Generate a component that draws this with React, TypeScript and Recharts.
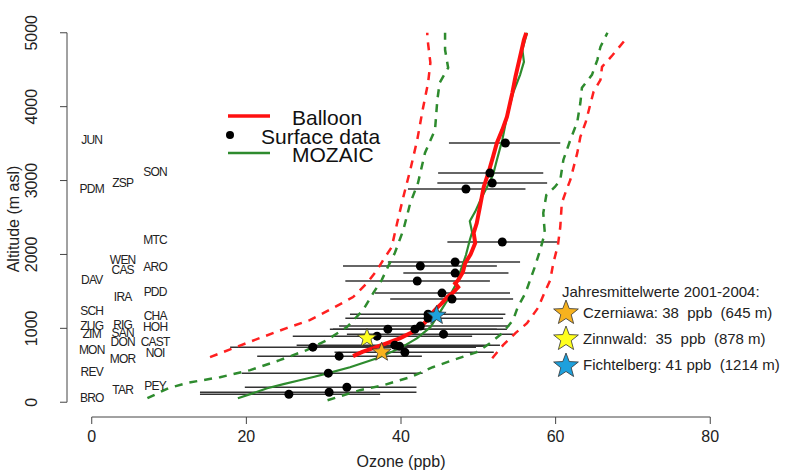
import { ComposedChart, Line, Scatter, XAxis, YAxis, ErrorBar, ReferenceLine } from 'recharts';

// [ozone ppb, altitude m]
const balloon: [number, number][] = [
  [33.8, 623], [35.0, 680], [36.4, 732], [38.2, 800], [39.9, 867], [41.3, 940], [42.5, 1016],
  [43.2, 1090], [43.8, 1179], [44.5, 1260], [45.2, 1330], [46.0, 1423], [46.8, 1490], [47.4, 1558],
  [47.0, 1610], [47.4, 1653], [48.0, 1760], [48.3, 1883], [49.0, 2000], [49.6, 2154], [49.4, 2290],
  [49.8, 2425], [50.2, 2642], [50.7, 2913], [51.3, 3103], [51.9, 3320], [52.4, 3509], [53.1, 3686],
  [53.7, 3862], [54.0, 4000], [54.4, 4187], [54.8, 4404], [55.4, 4675], [55.9, 4905], [56.2, 5000],
];
const mozaic: [number, number][] = [
  [18.9, 54], [20.8, 120], [22.7, 190], [24.8, 245], [26.9, 298], [28.8, 345], [30.6, 393],
  [33.4, 474], [36.9, 596], [39.9, 732], [42.1, 867], [43.8, 1016], [44.8, 1179], [46.0, 1382],
  [47.2, 1612], [47.6, 1748], [48.4, 1992], [48.9, 2195], [49.2, 2300], [48.9, 2450], [49.6, 2580],
  [50.4, 2764], [51.4, 2967], [51.9, 3076], [52.4, 3279], [53.1, 3550], [53.7, 3862], [54.5, 4187],
  [55.4, 4431], [55.9, 4607], [55.7, 4770], [56.3, 5000],
];
const balloonLow: [number, number][] = [
  [15.3, 610], [18.3, 732], [21.7, 867], [25.2, 1003], [28.2, 1111], [31.2, 1274], [33.8, 1423],
  [35.6, 1612], [36.9, 1789], [37.7, 1924], [38.8, 2100], [39.5, 2425], [40.3, 2778], [41.2, 3144],
  [42.1, 3550], [42.8, 3957], [43.5, 4322], [43.8, 4593], [43.4, 4946], [43.4, 5000],
];
const balloonHigh: [number, number][] = [
  [51.8, 596], [53.2, 772], [54.8, 935], [56.3, 1070], [57.7, 1274], [58.6, 1490], [59.3, 1653],
  [59.7, 1883], [60.3, 2127], [60.6, 2371], [60.8, 2696], [61.4, 2873], [61.9, 3008], [62.8, 3374],
  [63.2, 3591], [63.9, 3794], [64.9, 4200], [65.8, 4363], [66.0, 4539], [67.4, 4702], [69.0, 4905],
  [69.2, 4950],
];
const mozaicLow: [number, number][] = [
  [7.2, 54], [9.9, 190], [12.5, 265], [16.6, 339], [20.5, 434], [24.3, 569], [27.8, 705],
  [30.4, 840], [33.0, 1016], [35.1, 1247], [36.4, 1477], [37.5, 1653], [38.3, 1829], [39.2, 2019],
  [40.3, 2331], [41.2, 2696], [42.2, 2967], [43.1, 3374], [44.4, 3686], [44.5, 3821], [44.7, 4092],
  [45.0, 4322], [46.1, 4526], [45.7, 4770], [45.7, 5000],
];
const mozaicHigh: [number, number][] = [
  [30.5, 27], [34.7, 163], [37.7, 230], [41.2, 339], [44.1, 474], [46.7, 569], [49.8, 678],
  [51.5, 799], [53.1, 935], [54.5, 1111], [55.1, 1287], [56.1, 1477], [56.7, 1653], [57.3, 1829],
  [58.0, 2060], [58.6, 2290], [58.4, 2561], [58.8, 2805], [59.9, 2913], [60.6, 3008], [61.0, 3279],
  [61.9, 3550], [62.8, 3794], [63.2, 4052], [63.4, 4255], [64.7, 4431], [65.4, 4634], [65.8, 4810],
  [66.7, 5000],
];

// [ozone, altitude, low, high]
const surface: [number, number, number, number][] = [
  [53.5, 3509, 46.2, 60.6], [51.5, 3103, 44.8, 58.4], [51.8, 2967, 44.7, 58.9],
  [48.4, 2886, 40.9, 56.1], [53.1, 2168, 46.0, 60.2], [47.0, 1897, 38.3, 55.4],
  [42.5, 1843, 32.5, 52.4], [47.0, 1748, 40.3, 53.9], [42.1, 1640, 32.8, 51.5],
  [45.3, 1477, 36.6, 54.1], [46.6, 1396, 38.6, 54.5], [43.5, 1192, 33.4, 53.5],
  [43.5, 1138, 32.8, 53.2], [38.3, 989, 30.8, 52.4], [41.8, 989, 31.2, 53.7],
  [42.5, 1030, 32.0, 54.0], [45.5, 921, 33.0, 54.5], [36.9, 894, 26.0, 49.2],
  [28.6, 745, 17.9, 49.7], [39.2, 772, 26.5, 52.8], [39.8, 758, 28.0, 51.0],
  [40.5, 677, 31.4, 52.0], [32.0, 623, 21.4, 42.7], [30.6, 393, 19.4, 42.8],
  [33.0, 203, 19.8, 42.0], [30.7, 135, 14.0, 42.0], [25.5, 108, 14.0, 37.3],
];

const stations: [string, number, number][] = [
  ['JUN', 0, 3550], ['SON', 8.2, 3117], ['ZSP', 4, 2970], ['PDM', 0, 2886], ['MTC', 8.2, 2195],
  ['WEN', 4, 1924], ['CAS', 4, 1789], ['ARO', 8.2, 1829], ['DAV', 0, 1653], ['IRA', 4, 1423],
  ['PDD', 8.2, 1491], ['SCH', 0, 1233], ['CHA', 8.2, 1165], ['RIG', 4, 1043], ['ZUG', 0, 1030],
  ['HOH', 8.2, 1016], ['SAN', 4, 935], ['ZIM', 0, 921], ['DON', 4, 813], ['CAST', 8.2, 813],
  ['MON', 0, 705], ['NOI', 8.2, 677], ['MOR', 4, 596], ['REV', 0, 420], ['PEY', 8.2, 230],
  ['TAR', 4, 176], ['BRO', 0, 68],
];

const stars: [number, number, string][] = [
  [37.5, 678, '#f7b21e'], [35.6, 867, '#ffff1e'], [44.6, 1175, '#1ea0dc'],
];

const xTicks = [0, 20, 40, 60, 80];
const yTicks = [0, 1000, 2000, 3000, 4000, 5000];

const toPts = (arr: [number, number][]) => arr.map(([x, y]) => ({ x, y }));

const starPath = (cx: number, cy: number, R: number, r: number) => {
  let d = '';
  for (let i = 0; i < 10; i++) {
    const rad = i % 2 === 0 ? R : r;
    const a = -Math.PI / 2 + (i * Math.PI) / 5;
    d += (i === 0 ? 'M' : 'L') + (cx + rad * Math.cos(a)).toFixed(2) + ',' + (cy + rad * Math.sin(a)).toFixed(2);
  }
  return d + 'Z';
};

const font = '"Liberation Sans", Arial, sans-serif';

const XTick = ({ x, y, payload }: any) => (
  <text x={x} y={y + 18} textAnchor="middle" fontSize={16} fill="#222" fontFamily={font}>{payload.value}</text>
);
const YTick = ({ x, y, payload }: any) => (
  <text x={x - 23} y={y} transform={`rotate(-90, ${x - 23}, ${y})`} textAnchor="middle" fontSize={16} fill="#222" fontFamily={font}>
    {payload.value}
  </text>
);

export default function App() {
  const surfData = surface.map(([x, y, lo, hi]) => ({ x, y, err: [x - lo, hi - x] }));
  const stationData = stations.map(([name, x, y]) => ({ name, x, y }));
  const starData = stars.map(([x, y, color]) => ({ x, y, color }));

  return (
    <div style={{ position: 'absolute', left: 0, top: 0, width: 786, height: 470, background: '#fff', fontFamily: font }}>
      <ComposedChart width={786} height={470} margin={{ top: 18, right: 51, bottom: 0, left: 0 }}>
        <XAxis type="number" dataKey="x" domain={[-3.2, 83.2]} ticks={xTicks} height={53}
          axisLine={false} tickSize={7} tickMargin={0} tick={XTick} tickLine={{ stroke: '#444' }} interval={0} />
        <YAxis type="number" dataKey="y" domain={[-200, 5200]} ticks={yTicks} width={67}
          axisLine={false} tickSize={7} tickMargin={0} tick={YTick} tickLine={{ stroke: '#444' }} interval={0} />
        <ReferenceLine segment={[{ x: 0, y: -200 }, { x: 80, y: -200 }]} stroke="#444" ifOverflow="visible" />
        <ReferenceLine segment={[{ x: -3.2, y: 0 }, { x: -3.2, y: 5000 }]} stroke="#444" ifOverflow="visible" />

        <Scatter data={surfData} isAnimationActive={false}
          shape={(p: any) => <circle cx={p.cx} cy={p.cy} r={4.5} fill="#000" />}>
          <ErrorBar dataKey="err" direction="x" width={0} stroke="#333" strokeWidth={1.5} isAnimationActive={false} />
        </Scatter>

        <Line data={toPts(balloonLow)} dataKey="y" stroke="#ff2020" strokeWidth={2.5} strokeDasharray="8 7" dot={false} activeDot={false} isAnimationActive={false} />
        <Line data={toPts(balloonHigh)} dataKey="y" stroke="#ff2020" strokeWidth={2.5} strokeDasharray="8 7" dot={false} activeDot={false} isAnimationActive={false} />
        <Line data={toPts(mozaicLow)} dataKey="y" stroke="#2e8b2e" strokeWidth={2.5} strokeDasharray="8 7" dot={false} activeDot={false} isAnimationActive={false} />
        <Line data={toPts(mozaicHigh)} dataKey="y" stroke="#2e8b2e" strokeWidth={2.5} strokeDasharray="8 7" dot={false} activeDot={false} isAnimationActive={false} />
        <Line data={toPts(mozaic)} dataKey="y" stroke="#2e8b2e" strokeWidth={2.2} dot={false} activeDot={false} isAnimationActive={false} />
        <Line data={toPts(balloon)} dataKey="y" stroke="#ff1010" strokeWidth={4} dot={false} activeDot={false} isAnimationActive={false} />

        <Scatter data={starData} isAnimationActive={false}
          shape={(p: any) => <path d={starPath(p.cx, p.cy, 10, 4.2)} fill={p.payload.color} stroke="#333" strokeWidth={0.8} />} />

        <Scatter data={stationData} isAnimationActive={false}
          shape={(p: any) => (
            <text x={p.cx} y={p.cy} dy="0.36em" textAnchor="middle" fontSize={12} letterSpacing={-0.8} fill="#222" fontFamily={font}>
              {p.payload.name}
            </text>
          )} />
      </ComposedChart>

      <svg width={786} height={470} style={{ position: 'absolute', left: 0, top: 0, pointerEvents: 'none' }} fontFamily={font}>
        <text x={19} y={219} transform="rotate(-90, 19, 219)" textAnchor="middle" fontSize={16} fill="#222">Altitude (m asl)</text>
        <text x={401} y={467} textAnchor="middle" fontSize={16} fill="#222">Ozone (ppb)</text>

        <line x1={228} y1={116} x2={270} y2={116} stroke="#ff1010" strokeWidth={3.5} />
        <circle cx={230} cy={135} r={4} fill="#000" />
        <line x1={228} y1={153} x2={270} y2={153} stroke="#2e8b2e" strokeWidth={2.5} />
        <text x={292} y={125} fontSize={21} fill="#111">Balloon</text>
        <text x={261} y={144} fontSize={21} fill="#111">Surface data</text>
        <text x={292} y={162} fontSize={21} fill="#111">MOZAIC</text>

        <text x={562} y={297} fontSize={15} fill="#222" style={{ whiteSpace: 'pre' }}>Jahresmittelwerte 2001-2004:</text>
        <path d={starPath(566, 313, 13, 5.5)} fill="#f7b21e" stroke="#333" strokeWidth={0.8} />
        <path d={starPath(566, 339, 13, 5.5)} fill="#ffff1e" stroke="#333" strokeWidth={0.8} />
        <path d={starPath(566, 366, 13, 5.5)} fill="#1ea0dc" stroke="#333" strokeWidth={0.8} />
        <text x={583} y={318} fontSize={15} fill="#222" style={{ whiteSpace: 'pre' }}>Czerniawa: 38  ppb  (645 m)</text>
        <text x={583} y={344} fontSize={15} fill="#222" style={{ whiteSpace: 'pre' }}>Zinnwald:  35  ppb  (878 m)</text>
        <text x={583} y={370} fontSize={15} fill="#222" style={{ whiteSpace: 'pre' }}>Fichtelberg: 41 ppb  (1214 m)</text>
      </svg>
    </div>
  );
}
